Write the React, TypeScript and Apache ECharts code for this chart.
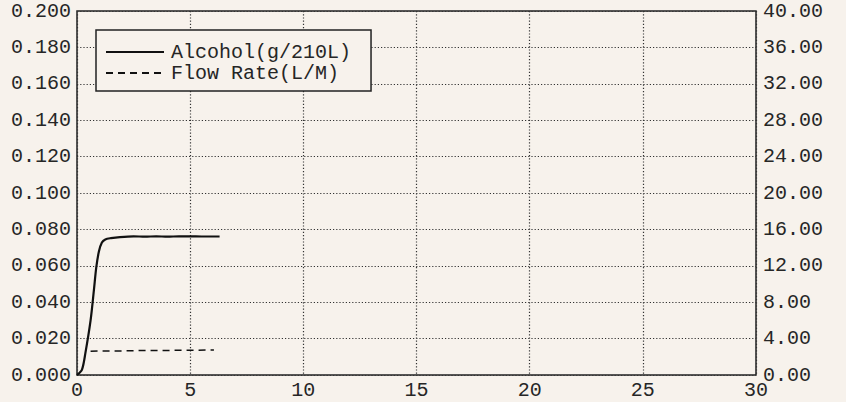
import React, { useEffect, useRef } from "react";
import * as echarts from "echarts";

const alcoholX = [0, 0.22, 0.37, 0.6, 0.75, 0.85, 0.97, 1.1, 1.25, 1.5, 1.9, 2.5, 3.0, 3.5, 4.0, 4.5, 5.0, 5.5, 6.3];
const alcoholY = [0, 0.003, 0.012, 0.03, 0.047, 0.059, 0.068, 0.0728, 0.0745, 0.0752, 0.0758, 0.0762, 0.076, 0.0762, 0.076, 0.0762, 0.0762, 0.0761, 0.0761];

const flowX = [0.6, 1.0, 2.0, 3.0, 4.0, 5.0, 6.05];
const flowY = [2.6, 2.65, 2.65, 2.7, 2.7, 2.72, 2.75];

const seriesNames = ["Alcohol(g/210L)", "Flow Rate(L/M)"];

const FONT = "'Liberation Mono', 'DejaVu Sans Mono', monospace";
const INK = "#262626";
const BG = "#f7f2ec";

export default function App() {
  const ref = useRef<HTMLDivElement>(null);
  useEffect(() => {
    document.body.style.margin = "0";
    document.body.style.background = BG;
    const chart = echarts.init(ref.current!, null, { renderer: "svg" });
    const gridLine = { show: true, lineStyle: { color: "#333", width: 1.2, type: [1.2, 2] as any } };
    chart.setOption({
      animation: false,
      backgroundColor: BG,
      textStyle: { fontFamily: FONT, color: INK },
      grid: {
        left: 77,
        right: 90,
        top: 11,
        bottom: 27,
        show: true,
        borderColor: "#222",
        borderWidth: 1.5,
        backgroundColor: "transparent",
      },
      legend: {
        orient: "vertical",
        left: 96,
        top: 30,
        padding: [12, 20, 8, 9],
        itemGap: 1,
        itemWidth: 58,
        itemHeight: 14,
        borderColor: "#222",
        borderWidth: 1.5,
        backgroundColor: BG,
        itemStyle: { color: "transparent", borderColor: "transparent", borderWidth: 0, opacity: 0 },
        textStyle: { fontFamily: FONT, fontSize: 20, color: INK, padding: [0, 0, 0, 2] },
        data: seriesNames,
      },
      xAxis: {
        type: "value",
        min: 0,
        max: 30,
        interval: 5,
        axisLine: { show: false },
        axisTick: { show: false },
        axisLabel: { fontFamily: FONT, fontSize: 20, color: INK, margin: 5 },
        splitLine: gridLine,
      },
      yAxis: [
        {
          type: "value",
          min: 0,
          max: 0.2,
          interval: 0.02,
          axisLine: { show: false },
          axisTick: { show: false },
          axisLabel: {
            fontFamily: FONT,
            fontSize: 20,
            color: INK,
            margin: 6,
            formatter: (v: number) => v.toFixed(3),
          },
          splitLine: gridLine,
        },
        {
          type: "value",
          min: 0,
          max: 40,
          interval: 4,
          position: "right",
          axisLine: { show: false },
          axisTick: { show: false },
          axisLabel: {
            fontFamily: FONT,
            fontSize: 20,
            color: INK,
            margin: 7,
            formatter: (v: number) => v.toFixed(2),
          },
          splitLine: { show: false },
        },
      ],
      series: [
        {
          name: seriesNames[0],
          type: "line",
          yAxisIndex: 0,
          showSymbol: false,
          symbol: "none",
          smooth: 0.3,
          lineStyle: { color: "#111", width: 2.2 },
          itemStyle: { color: "#111" },
          data: alcoholX.map((x, i) => [x, alcoholY[i]]),
        },
        {
          name: seriesNames[1],
          type: "line",
          yAxisIndex: 1,
          showSymbol: false,
          symbol: "none",
          lineStyle: { color: "#111", width: 1.5, type: [7, 5] },
          itemStyle: { color: "#111" },
          data: flowX.map((x, i) => [x, flowY[i]]),
        },
      ],
    });
    return () => chart.dispose();
  }, []);
  return <div ref={ref} style={{ width: 846, height: 402 }} />;
}
